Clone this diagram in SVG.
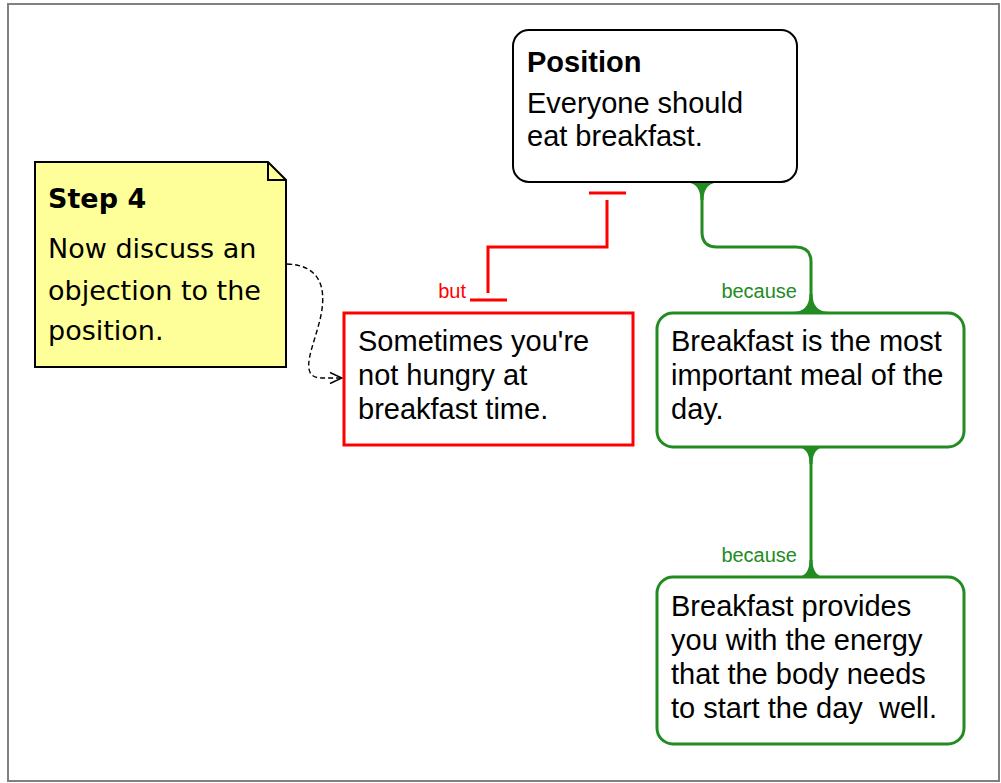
<svg xmlns="http://www.w3.org/2000/svg" width="1001" height="783" viewBox="0 0 1001 783">
<defs>
<style>
.body{font-family:"Liberation Sans",Arial,sans-serif;font-size:29px;fill:#000}
.bold{font-weight:bold}
.note{font-family:"Comic Sans MS","DejaVu Sans",sans-serif;font-size:27px;fill:#000}
.lblg{font-family:"Liberation Sans",Arial,sans-serif;font-size:20px;fill:#228B22}
.lblr{font-family:"Liberation Sans",Arial,sans-serif;font-size:20px;fill:#FF0000}
.green{fill:none;stroke:#228B22;stroke-width:3}
.red{fill:none;stroke:#FF0000;stroke-width:3}
.flare{fill:#228B22}
</style>
<marker id="openArrow" viewBox="0 0 14 14" refX="13" refY="7" markerWidth="14" markerHeight="14" markerUnits="userSpaceOnUse" orient="auto">
<path d="M1,1.5 L13,7 L1,12.5" fill="none" stroke="#000" stroke-width="1.4"/>
</marker>
</defs>
<rect x="0" y="0" width="1001" height="783" fill="#fff"/>
<rect x="8" y="4" width="991" height="777" fill="#fff" stroke="#808080" stroke-width="2"/>

<g id="connectors">
<!-- red objection connector -->
<path class="red" d="M589,193 H626"/>
<path class="red" d="M607,200 V247 H488 V293"/>
<path class="red" d="M470,300 H507"/>
<text class="lblr" x="466" y="298" text-anchor="end">but</text>
<!-- green reason connector 1 -->
<path class="green" d="M702,184 V232 Q702,247 717,247 H796 Q811,247 811,262 V311"/>
<path class="flare" d="M684,182 Q700.5,182 700.5,200 L703.5,200 Q703.5,182 721,182 Z"/>
<path class="flare" d="M792,312 Q809.5,312 809.5,294 L812.5,294 Q812.5,312 830,312 Z"/>
<text class="lblg" x="797" y="298" text-anchor="end">because</text>
<!-- green reason connector 2 -->
<path class="green" d="M811,448 V576"/>
<path class="flare" d="M796,447 Q809.5,447 809.5,464 L812.5,464 Q812.5,447 826,447 Z"/>
<path class="flare" d="M796,577 Q809.5,577 809.5,560 L812.5,560 Q812.5,577 826,577 Z"/>
<text class="lblg" x="797" y="562" text-anchor="end">because</text>
<!-- dashed note pointer -->
<path d="M287,264 C318,265 327,285 321,315 C315,345 296,378 322,378 L342,378" fill="none" stroke="#000" stroke-width="1.4" stroke-dasharray="5,3" marker-end="url(#openArrow)"/>
</g>

<g id="position">
<rect x="513" y="30" width="284" height="152" rx="16" ry="16" fill="#fff" stroke="#000" stroke-width="2"/>
<text class="body bold" x="527" y="72">Position</text>
<text class="body" x="527" y="113">Everyone should</text>
<text class="body" x="527" y="146">eat breakfast.</text>
</g>

<g id="objection">
<rect x="344" y="313" width="289" height="132" fill="#fff" stroke="#FF0000" stroke-width="3"/>
<text class="body" x="358" y="351">Sometimes you're</text>
<text class="body" x="358" y="385">not hungry at</text>
<text class="body" x="358" y="419">breakfast time.</text>
</g>

<g id="reason1">
<rect x="657" y="313" width="307" height="134" rx="16" ry="16" fill="#fff" stroke="#228B22" stroke-width="3"/>
<text class="body" x="671" y="351">Breakfast is the most</text>
<text class="body" x="671" y="385">important meal of the</text>
<text class="body" x="671" y="419">day.</text>
</g>

<g id="reason2">
<rect x="657" y="577" width="307" height="167" rx="16" ry="16" fill="#fff" stroke="#228B22" stroke-width="3"/>
<text class="body" x="671" y="616">Breakfast provides</text>
<text class="body" x="671" y="650">you with the energy</text>
<text class="body" x="671" y="684">that the body needs</text>
<text class="body" x="671" y="718" xml:space="preserve" style="white-space:pre">to start the day  well.</text>
</g>

<g id="note">
<path d="M35,162 H268 L286,180 V367 H35 Z" fill="#FFFF99" stroke="#000" stroke-width="2"/>
<path d="M268,162 V180 H286" fill="none" stroke="#000" stroke-width="2"/>
<text class="note bold" x="48" y="208">Step 4</text>
<text class="note" x="48" y="258">Now discuss an</text>
<text class="note" x="48" y="300">objection to the</text>
<text class="note" x="48" y="340">position.</text>
</g>
</svg>
